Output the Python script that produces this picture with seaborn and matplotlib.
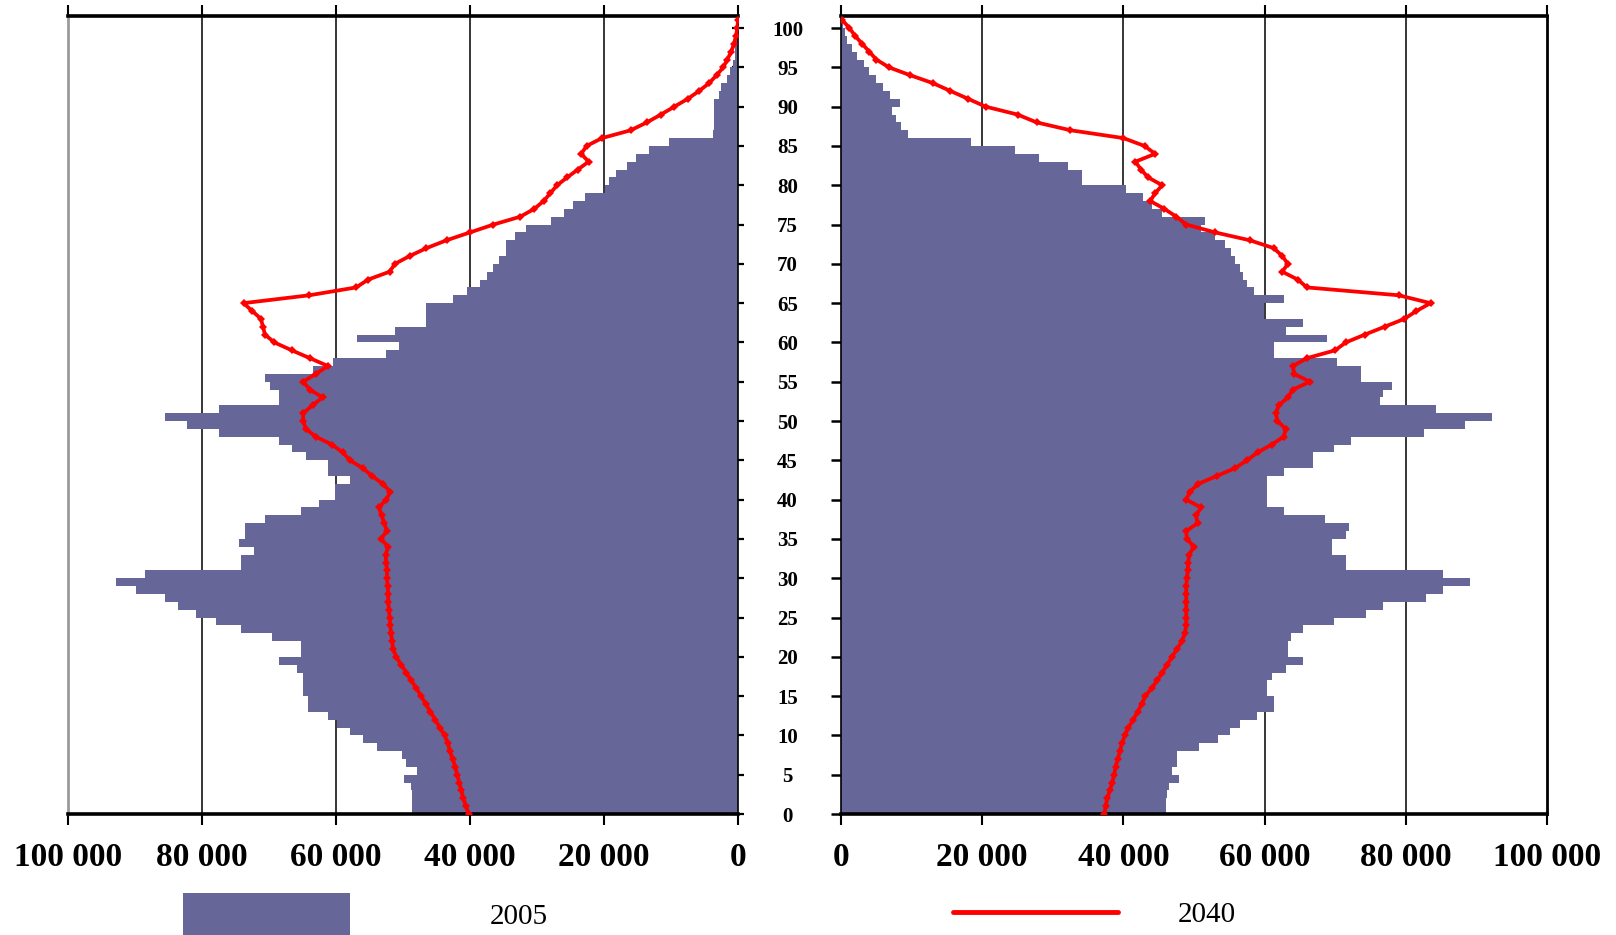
import numpy as np
import matplotlib
matplotlib.use('Agg')
import matplotlib.pyplot as plt
import seaborn as sns
from matplotlib.patches import Patch
from matplotlib.lines import Line2D

# ---------------- data (thousands of persons) ----------------
ages = np.arange(0, 101)          # single-year age groups (bars)
ages_line = np.arange(0, 102)     # projection points

male_2005_k = [
    48.6, 48.6, 48.6, 48.8, 49.8, 47.9, 49.5, 50.2, 53.9, 55.9,
    57.9, 59.8, 61.2, 64.2, 64.2, 64.9, 64.9, 64.9, 65.8, 68.5,
    65.2, 65.2, 69.6, 74.2, 77.9, 80.9, 83.6, 85.5, 89.9, 92.9,
    88.5, 74.2, 74.2, 72.2, 74.5, 73.6, 73.6, 70.6, 65.2, 62.5,
    60.2, 60.2, 57.9, 61.2, 61.2, 64.5, 66.6, 68.5, 77.5, 82.2,
    85.5, 77.5, 68.5, 68.5, 69.9, 70.6, 63.5, 60.5, 52.5, 50.6,
    56.9, 51.2, 46.6, 46.6, 46.6, 42.5, 40.5, 38.5, 37.5, 36.6,
    35.6, 34.6, 34.6, 33.3, 31.6, 27.9, 25.9, 24.6, 22.9, 19.9,
    19.2, 18.2, 16.6, 15.2, 13.3, 10.3, 3.8, 3.6, 3.6, 3.6,
    3.6, 2.9, 2.6, 1.6, 1.2, 0.8, 0.5, 0.4, 0.3, 0.2,
    0.1]

male_2040_k = [
    40.2, 40.6, 41.0, 41.3, 41.6, 41.9, 42.2, 42.6, 43.0, 43.3,
    43.8, 44.5, 45.2, 45.9, 46.6, 47.3, 48.0, 48.8, 49.5, 50.3,
    51.0, 51.5, 51.6, 51.8, 51.9, 52.0, 52.1, 52.2, 52.2, 52.3,
    52.4, 52.4, 52.5, 52.6, 52.2, 53.3, 52.4, 52.8, 53.2, 53.6,
    52.5, 51.9, 53.0, 54.6, 56.0, 57.9, 59.0, 60.6, 63.0, 64.5,
    64.9, 64.9, 63.5, 62.0, 63.9, 64.9, 63.0, 61.2, 63.9, 66.6,
    69.2, 70.6, 70.9, 71.2, 72.5, 73.8, 64.0, 57.0, 55.2, 52.0,
    51.2, 49.0, 46.5, 43.5, 40.0, 36.5, 32.5, 30.4, 29.0, 28.0,
    27.0, 25.5, 23.9, 22.3, 23.4, 22.6, 20.3, 16.0, 13.6, 11.5,
    9.5, 7.5, 5.8, 4.3, 3.2, 2.2, 1.6, 1.0, 0.6, 0.3,
    0.1, 0.0]

female_2005_k = [
    46.0, 46.0, 46.2, 46.5, 47.9, 46.9, 47.6, 47.6, 50.7, 53.4,
    55.1, 56.5, 58.9, 61.3, 61.3, 60.3, 60.3, 61.0, 63.0, 65.4,
    63.3, 63.3, 63.7, 65.4, 69.9, 74.3, 76.7, 82.9, 85.3, 89.1,
    85.3, 71.6, 71.6, 69.5, 69.5, 71.6, 71.9, 68.5, 62.7, 60.3,
    60.3, 60.3, 60.3, 62.7, 66.8, 66.8, 69.9, 72.3, 82.6, 88.4,
    92.2, 84.3, 76.4, 76.7, 78.1, 73.6, 73.6, 70.2, 61.3, 61.3,
    68.8, 63.0, 65.4, 59.9, 59.9, 62.7, 58.5, 57.5, 57.0, 56.5,
    55.8, 55.3, 54.4, 53.0, 51.0, 51.5, 45.5, 44.0, 42.8, 40.4,
    34.2, 34.2, 32.1, 28.0, 24.6, 18.4, 9.5, 8.5, 7.8, 7.2,
    8.4, 7.0, 6.0, 5.0, 4.0, 3.2, 2.3, 1.5, 0.9, 0.5,
    0.3]

female_2040_k = [
    37.3, 37.5, 37.7, 38.1, 38.4, 38.7, 38.9, 39.2, 39.5, 39.8,
    40.2, 40.7, 41.4, 42.0, 42.6, 43.1, 44.0, 44.8, 45.5, 46.2,
    46.9, 47.6, 48.3, 48.7, 48.9, 48.9, 48.9, 48.9, 48.9, 48.9,
    49.0, 49.1, 49.2, 49.3, 50.0, 49.0, 48.9, 50.5, 50.3, 51.0,
    48.9, 49.4, 50.6, 53.2, 55.8, 57.5, 59.0, 61.0, 62.7, 63.0,
    61.8, 61.6, 62.0, 63.3, 64.0, 66.4, 64.2, 64.0, 66.0, 70.0,
    71.5, 74.2, 77.0, 79.8, 81.5, 83.5, 79.0, 66.0, 64.7, 62.5,
    63.3, 62.5, 61.3, 57.9, 53.0, 48.9, 47.5, 45.8, 43.8, 44.5,
    45.5, 43.5, 42.5, 41.7, 44.5, 43.0, 40.0, 32.5, 27.7, 25.0,
    20.5, 18.0, 15.5, 13.0, 9.8, 6.8, 5.0, 4.0, 3.0, 2.0,
    1.2, 0.2]

x_ticks = [0, 20000, 40000, 60000, 80000, 100000]
x_tick_labels = ['0', '20 000', '40 000', '60 000', '80 000', '100 000']
age_ticks = list(range(0, 101, 5))
age_tick_labels = [str(a) for a in age_ticks]
legend_labels = ['2005', '2040']

BAR = '#666699'
RED = '#FF0000'

# ---------------- style ----------------
sns.set_theme(style='white')
plt.rcParams['font.family'] = ['Liberation Serif', 'DejaVu Serif']
plt.rcParams['text.color'] = 'black'
plt.rcParams['xtick.color'] = 'black'
plt.rcParams['ytick.color'] = 'black'
plt.rcParams['axes.edgecolor'] = 'black'

W, H = 1616, 935
fig = plt.figure(figsize=(W / 100, H / 100), dpi=100)
bottom = 1 - 814 / H
height = (814 - 15.5) / H
axL = fig.add_axes([68 / W, bottom, (738 - 68) / W, height])
axR = fig.add_axes([841 / W, bottom, (1547 - 841) / W, height])


def draw(ax, bars_k, line_k):
    for v in x_ticks[1:-1]:
        ax.axvline(v, color='black', lw=1.1, zorder=0.5)
    sns.barplot(x=np.array(bars_k) * 1000, y=ages + 0.5, orient='y',
                native_scale=True, width=1, color=BAR, saturation=1,
                errorbar=None, linewidth=0, ax=ax, zorder=1)
    sns.lineplot(x=np.array(line_k) * 1000, y=ages_line, orient='y',
                 sort=False, estimator=None, color=RED, lw=2.7,
                 marker='D', markersize=4, markeredgewidth=0,
                 ax=ax, zorder=3)
    ax.set_ylim(0, 101.6)
    ax.set_xticks(x_ticks)
    ax.set_xticklabels(x_tick_labels, fontsize=24, fontweight='bold')
    ax.set_xlabel('')
    ax.set_ylabel('')
    ax.tick_params(axis='x', which='both', direction='out', length=8,
                   width=1.5, pad=12, bottom=True, top=True,
                   labeltop=False, colors='black')
    for s in ax.spines.values():
        s.set_visible(True)
        s.set_color('black')
    ax.spines['top'].set_linewidth(2.6)
    ax.spines['bottom'].set_linewidth(2.6)
    ax.set_yticks(age_ticks)


draw(axL, male_2005_k, male_2040_k)
draw(axR, female_2005_k, female_2040_k)

# left panel (reversed)
axL.set_xlim(100000, 0)
axL.spines['left'].set_color('#9a9a9a')
axL.spines['left'].set_linewidth(2.0)
axL.spines['right'].set_linewidth(1.2)
axL.yaxis.tick_right()
axL.tick_params(axis='y', direction='inout', length=8, width=1.6,
                right=True, left=False, labelright=False, labelleft=False)

# right panel
axR.set_xlim(0, 100000)
axR.spines['left'].set_linewidth(1.2)
axR.spines['right'].set_linewidth(2.0)
axR.set_yticklabels(age_tick_labels, fontsize=15, fontweight='bold')
axR.tick_params(axis='y', direction='out', length=7, width=1.8,
                left=True, right=False, pad=31.5)
for lbl in axR.get_yticklabels():
    lbl.set_horizontalalignment('center')

# legend (two separate entries, like the original)
fs = 21
fpx = fs * 100 / 72
leg1 = fig.legend(handles=[Patch(facecolor=BAR, edgecolor='none')],
                  labels=[legend_labels[0]], loc='center left',
                  bbox_to_anchor=(183 / W, 1 - 915 / H), frameon=False,
                  fontsize=fs, handlelength=167 / fpx,
                  handleheight=56 / fpx, handletextpad=140 / fpx,
                  borderpad=0, borderaxespad=0)
leg2 = fig.legend(handles=[Line2D([0], [0], color=RED, lw=3.5)],
                  labels=[legend_labels[1]], loc='center left',
                  bbox_to_anchor=(953 / W, 1 - 915 / H), frameon=False,
                  fontsize=fs, handlelength=165 / fpx,
                  handletextpad=60 / fpx, borderpad=0, borderaxespad=0)

fig.savefig('out.png', dpi=100)
